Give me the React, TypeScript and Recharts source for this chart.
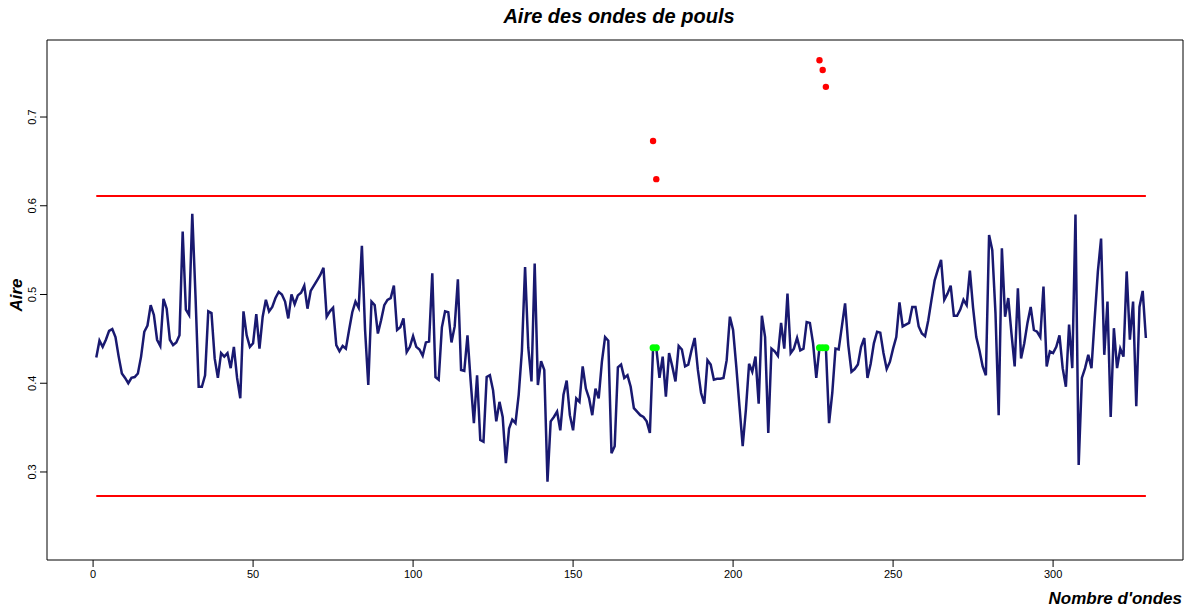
import { ComposedChart, Line, Scatter, XAxis, YAxis, ReferenceLine, ReferenceArea } from "recharts";

// aire de chaque onde (points remplacés déjà inclus : 175, 176, 227-229)
const aire = [
  0.429, 0.448, 0.441, 0.449, 0.459, 0.461, 0.452, 0.430, 0.411, 0.406,
  0.400, 0.406, 0.407, 0.411, 0.430, 0.458, 0.465, 0.488, 0.477, 0.449,
  0.442, 0.495, 0.484, 0.449, 0.443, 0.446, 0.454, 0.571, 0.483, 0.477,
  0.591, 0.499, 0.396, 0.396, 0.409, 0.481, 0.479, 0.428, 0.406, 0.434,
  0.430, 0.434, 0.417, 0.441, 0.406, 0.383, 0.481, 0.454, 0.441, 0.445,
  0.478, 0.439, 0.475, 0.494, 0.481, 0.486, 0.496, 0.503, 0.500, 0.492,
  0.473, 0.500, 0.489, 0.499, 0.502, 0.510, 0.484, 0.504, 0.510, 0.516,
  0.522, 0.530, 0.475, 0.481, 0.485, 0.443, 0.436, 0.442, 0.439, 0.460,
  0.480, 0.492, 0.485, 0.555, 0.460, 0.398, 0.492, 0.488, 0.456, 0.471,
  0.488, 0.494, 0.496, 0.510, 0.460, 0.463, 0.473, 0.435, 0.441, 0.453,
  0.441, 0.438, 0.431, 0.446, 0.447, 0.524, 0.407, 0.404, 0.463, 0.481,
  0.480, 0.446, 0.464, 0.517, 0.415, 0.414, 0.454, 0.402, 0.355, 0.409,
  0.336, 0.334, 0.407, 0.409, 0.392, 0.357, 0.379, 0.362, 0.310, 0.349,
  0.359, 0.355, 0.387, 0.436, 0.531, 0.440, 0.402, 0.535, 0.398, 0.425,
  0.415, 0.289, 0.357, 0.362, 0.368, 0.347, 0.387, 0.403, 0.364, 0.347,
  0.383, 0.379, 0.419, 0.394, 0.383, 0.364, 0.394, 0.383, 0.424, 0.452,
  0.448, 0.321, 0.329, 0.418, 0.421, 0.406, 0.409, 0.396, 0.372, 0.368,
  0.364, 0.362, 0.357, 0.344, 0.440, 0.440, 0.406, 0.430, 0.385, 0.434,
  0.419, 0.402, 0.442, 0.438, 0.419, 0.421, 0.437, 0.451, 0.415, 0.389,
  0.377, 0.426, 0.421, 0.404, 0.405, 0.405, 0.406, 0.426, 0.475, 0.460,
  0.419, 0.374, 0.329, 0.370, 0.422, 0.413, 0.430, 0.377, 0.476, 0.452,
  0.344, 0.439, 0.436, 0.431, 0.468, 0.439, 0.501, 0.434, 0.439, 0.451,
  0.437, 0.439, 0.469, 0.468, 0.445, 0.406, 0.440, 0.440, 0.440, 0.355,
  0.389, 0.439, 0.438, 0.464, 0.490, 0.443, 0.413, 0.416, 0.421, 0.441,
  0.451, 0.406, 0.422, 0.445, 0.458, 0.457, 0.434, 0.416, 0.424, 0.439,
  0.452, 0.491, 0.464, 0.466, 0.468, 0.486, 0.486, 0.464, 0.456, 0.453,
  0.471, 0.494, 0.516, 0.528, 0.539, 0.494, 0.501, 0.510, 0.476, 0.476,
  0.483, 0.494, 0.488, 0.527, 0.485, 0.452, 0.437, 0.419, 0.409, 0.567,
  0.550, 0.479, 0.364, 0.552, 0.475, 0.496, 0.456, 0.419, 0.507, 0.428,
  0.445, 0.468, 0.486, 0.460, 0.458, 0.452, 0.509, 0.419, 0.436, 0.434,
  0.441, 0.454, 0.417, 0.396, 0.466, 0.417, 0.590, 0.308, 0.406, 0.417,
  0.432, 0.417, 0.473, 0.526, 0.563, 0.432, 0.492, 0.362, 0.462, 0.417,
  0.439, 0.430, 0.526, 0.449, 0.492, 0.374, 0.486, 0.504, 0.451,
];

// ondes aberrantes : rang et valeur d'origine
const aberrantsRang = [175, 176, 227, 228, 229];
const aberrantsValeur = [0.673, 0.630, 0.764, 0.753, 0.734];

const limiteHaute = 0.611;
const limiteBasse = 0.273;

const xTicks = [0, 50, 100, 150, 200, 250, 300];
const yTicks = [0.3, 0.4, 0.5, 0.6, 0.7];
const xDomain: [number, number] = [-14.4, 340.6];
const yDomain: [number, number] = [0.2008, 0.7868];

const data = aire.map((v, i) => ({ n: i + 1, aire: v }));
const rouges = aberrantsRang.map((n, i) => ({ n, aire: aberrantsValeur[i] }));
const verts = aberrantsRang.map((n) => ({ n, aire: aire[n - 1] }));

const font = "'Liberation Sans', Arial, sans-serif";

const YTick = ({ x, y, payload }: any) => (
  <text transform={`translate(${x - 2},${y}) rotate(-90)`} textAnchor="middle" fontSize={11} fontFamily={font} fill="#000">
    {payload.value}
  </text>
);

const dot = (color: string, r: number) => (p: any) => <circle cx={p.cx} cy={p.cy} r={r} fill={color} />;

export default function App() {
  return (
    <div style={{ position: "relative", width: 1184, height: 612, background: "#fff", fontFamily: font }}>
      <style>{"body{margin:0}"}</style>
      <div style={{ position: "absolute", left: 0, width: 1238, top: 5, textAlign: "center", fontSize: 20, fontWeight: "bold", fontStyle: "italic" }}>
        Aire des ondes de pouls
      </div>
      <div style={{ position: "absolute", left: 17, top: 295, transform: "translate(-50%,-50%) rotate(-90deg)", fontSize: 17, fontWeight: "bold", fontStyle: "italic" }}>
        Aire
      </div>
      <div style={{ position: "absolute", right: 2, top: 589, fontSize: 17, fontWeight: "bold", fontStyle: "italic" }}>
        Nombre d&apos;ondes
      </div>
      <ComposedChart width={1184} height={612} data={data} margin={{ top: 40, right: 1, bottom: 0, left: 0 }} style={{ position: "absolute", left: 0, top: 0 }}>
        <XAxis
          dataKey="n"
          type="number"
          domain={xDomain}
          ticks={xTicks}
          allowDataOverflow
          height={52}
          tickSize={7}
          tickMargin={3}
          axisLine={false}
          tickLine={{ stroke: "#000" }}
          tick={{ fontSize: 11, fill: "#000", fontFamily: font }}
        />
        <YAxis
          type="number"
          domain={yDomain}
          ticks={yTicks}
          allowDataOverflow
          width={47}
          tickSize={7}
          tickMargin={2}
          axisLine={false}
          tickLine={{ stroke: "#000" }}
          tick={<YTick />}
        />
        <ReferenceArea x1={xDomain[0]} x2={xDomain[1]} y1={yDomain[0]} y2={yDomain[1]} fill="none" stroke="#000" strokeWidth={1} />
        <ReferenceLine segment={[{ x: 1, y: limiteHaute }, { x: 329, y: limiteHaute }]} stroke="#ff0000" strokeWidth={2} />
        <ReferenceLine segment={[{ x: 1, y: limiteBasse }, { x: 329, y: limiteBasse }]} stroke="#ff0000" strokeWidth={2} />
        <Line type="linear" dataKey="aire" stroke="#191970" strokeWidth={2.5} dot={false} isAnimationActive={false} />
        <Scatter data={verts} dataKey="aire" shape={dot("#00ff00", 3.5)} isAnimationActive={false} />
        <Scatter data={rouges} dataKey="aire" shape={dot("#ff0000", 3.2)} isAnimationActive={false} />
      </ComposedChart>
    </div>
  );
}
